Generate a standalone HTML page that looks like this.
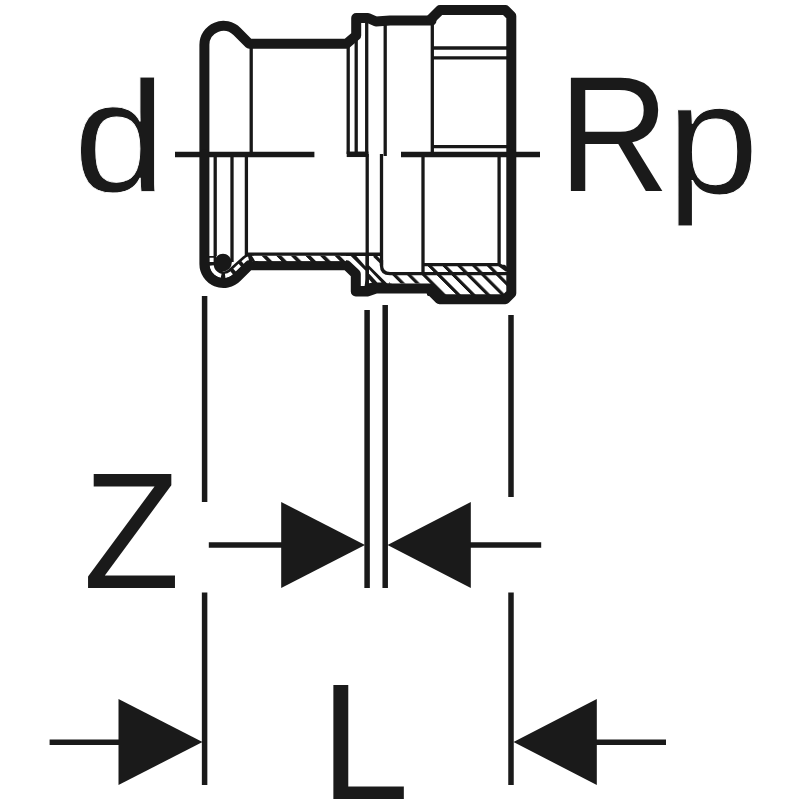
<!DOCTYPE html>
<html lang="en">
<head>
<meta charset="utf-8">
<title>Fitting dimensions d, Rp, Z, L</title>
<style>
html,body{margin:0;padding:0;background:#fff;}
body{width:800px;height:800px;overflow:hidden;}
svg{display:block;}
text{font-family:"Liberation Sans",sans-serif;fill:#1a1a1a;}
.thick{fill:none;stroke:#181818;stroke-width:10;stroke-linejoin:round;stroke-linecap:round;}
.thin{fill:none;stroke:#181818;stroke-width:3.3;stroke-linecap:butt;}
.mid{fill:none;stroke:#181818;stroke-width:5.5;stroke-linecap:butt;}
.dim{fill:none;stroke:#1a1a1a;stroke-width:5.5;stroke-linecap:butt;}
.arrow{fill:#1a1a1a;stroke:none;}
</style>
</head>
<body>
<svg width="800" height="800" viewBox="0 0 800 800">
<defs>
<pattern id="hatch" patternUnits="userSpaceOnUse" width="14.8" height="20" patternTransform="translate(13.6 0) skewX(45)">
<rect x="0" y="0" width="14.8" height="20" fill="#fff"/>
<rect x="0" y="0" width="4.5" height="20" fill="#181818"/>
</pattern>
<pattern id="hatch2" patternUnits="userSpaceOnUse" width="14.6" height="20" patternTransform="translate(5.8 0) skewX(45)">
<rect x="0" y="0" width="14.6" height="20" fill="#fff"/>
<rect x="0" y="0" width="5.2" height="20" fill="#181818"/>
</pattern>
</defs>
<rect width="800" height="800" fill="#fff"/>

<!-- labels -->
<text id="t-d" x="0" y="0" font-size="157.7" stroke="#fff" stroke-width="0.8" transform="translate(73.4 191.4) scale(1.0512 1)">d</text>
<text id="t-R" x="0" y="0" font-size="164.8" transform="translate(558.3 191) scale(0.935 1)">R</text>
<text id="t-p" x="0" y="0" font-size="158.4" stroke="#fff" stroke-width="1" transform="translate(666.8 193.1) scale(1.046 1)">p</text>
<text id="t-Z" x="0" y="0" font-size="165.3" transform="translate(83 588) scale(0.96 1)">Z</text>
<text id="t-L" x="0" y="0" font-size="165.6" transform="translate(320.3 799) scale(0.965 1)">L</text>

<!-- upper half thin lines (outside view) -->
<g id="upper">
<path class="thin" d="M251.2,46 V154" stroke-width="3.8"/>
<path class="thin" d="M348.2,46 V154"/>
<path class="thin" d="M356.2,36 V154"/>
<path class="thin" d="M366.7,22 V154" stroke-width="3.8"/>
<path class="mid" d="M346.7,154.3 H368.4" stroke-width="5"/>
<path class="thin" d="M385.2,24 V156" stroke-width="3.6"/>
<path class="thin" d="M432.3,22 V154" stroke-width="3.6"/>
<path class="thin" d="M432,48 H507"/>
<path class="thin" d="M432,57.8 H507"/>
<path class="thin" d="M432,146.6 H507"/>
</g>

<!-- lower half: hatched wall section -->
<g id="section">
<!-- threaded body hatch -->
<path d="M341,255 H381.5 V266 Q381.5,273.6 390,273.6 H392 V290 H355.8 V274 L346.5,265.2 H341 Z" fill="#181818"/>
<path d="M368.8,255.9 H381 V266 Q381,274 390,274 H392 V283.6 H387.2 L368.8,265.2 Z" fill="#fff"/>
<path d="M374.3,255.5 L382,263.2" stroke="#181818" stroke-width="3.2" fill="none"/>
<path d="M389,274 H422.6 V264.7 H507 V296 H427 V283.6 H389 Z" fill="url(#hatch)"/>
<path d="M424,284 H434 L446,296 H436 Z" fill="#181818"/>
<!-- press end: white gaps between hatch lines near the step -->
<path d="M341.5,255.9 H350.8 L365.6,270.8 V279 L364.6,286 H359 V272 L346,260.5 Z" fill="#fff"/>
<path d="M356.3,255.9 H365.6 V266.5 Z" fill="#fff"/>
<path d="M369,269.3 L381.6,282.6 H377.3 L369,273.4 Z" fill="#fff"/>
<path d="M368.9,279.2 L372,282.8 L368.9,283.2 Z" fill="#fff"/>
<rect x="336" y="255.6" width="5" height="6" fill="url(#hatch2)"/>
<path class="thin" d="M381.5,154 V265.5" stroke-width="4.1"/>
<path class="thin" d="M381.5,260 V265.5 Q381.5,273.6 390,273.6 H507" stroke-width="3.1"/>
<path class="thin" d="M423,154 V274" stroke-width="3.3"/>
<path class="thin" d="M423,264.7 H500" stroke-width="2.9"/>
<path class="thin" d="M499.1,154 V264.6 L507,270.4"/>
<path class="thin" d="M215.2,154 V256" stroke-width="3.5"/>
<path class="thin" d="M232,154 V262" stroke-width="3.5"/>
<path class="thin" d="M246.4,154 V256" stroke-width="3.5"/>
<path class="thin" d="M367.2,154 V286" stroke-width="4.1"/>
<!-- bead wall -->
<path d="M211.5,256 V263.8 A12.1,12.1 0 0 0 231.2,273.3 L246,260 Q247.8,258.4 250.5,258.4 H254" fill="none" stroke="#181818" stroke-width="9.4"/>
<path d="M211.5,256 V263.8 A12.1,12.1 0 0 0 231.2,273.3 L246,260 Q247.8,258.4 250.5,258.4 H254" fill="none" stroke="#fff" stroke-width="4.2" stroke-dasharray="0 1.75 4.35 3.5 14.7 3.9 7.2 4 7.2 3.8 7.2 100"/>
<circle cx="223" cy="262.6" r="8.8" fill="#181818"/>
</g>

<!-- centre lines -->
<path class="mid" d="M175,154.6 H314.4" stroke-width="5.6"/>
<path class="mid" d="M401,154.6 H540" stroke-width="5.6"/>

<!-- outline -->
<path id="outline" class="thick" d="M204.4,154.4 V45 A19,19 0 0 1 237,31.6 L249.2,43.75 H346.5 L356.2,35.5 V18 H368 L376,21.5 L390,20.6 H431.5"/>
<path class="thick" d="M431,19 L440,10.1 H505.3 L511.3,16.1 V154.4" stroke-width="10.4"/>
<path class="thick" d="M204.4,154.4 V263.8 A19,19 0 0 0 237,277.2 L249.2,265.2 H346.5 L355.8,274 V291.4 H368 L376,288.6 H431.5"/>
<path class="thick" d="M430.5,290.3 L439.5,299.3 H505.3 L511.3,293.3 V154.4" stroke-width="10.4"/>
<!-- pipe wall hatch (drawn over outline) -->
<rect x="252" y="255.6" width="94" height="5.5" fill="url(#hatch2)"/>
<path d="M252,255.8 H256 L260.5,260.9 H255 Z" fill="#fff"/>
<path class="thin" d="M246.4,254.2 H383" stroke-width="3.2"/>

<!-- dimension lines -->
<g id="dims">
<path class="dim" d="M204.6,296 V502"/>
<path class="dim" d="M204.6,592.5 V785"/>
<path class="dim" d="M367.1,310 V588"/>
<path class="dim" d="M385.2,305 V588"/>
<path class="dim" d="M511,315 V497"/>
<path class="dim" d="M511,592.5 V785"/>
<path class="dim" d="M208.8,545 H282"/>
<path class="arrow" d="M281.2,502 L365,545 L281.2,588 Z"/>
<path class="dim" d="M470,545 H541.2"/>
<path class="arrow" d="M470.8,502 L387.5,545 L470.8,588 Z"/>
<path class="dim" d="M49.6,742.2 H119"/>
<path class="arrow" d="M118.5,699 L202.5,742 L118.5,785 Z"/>
<path class="dim" d="M596,742.2 H666"/>
<path class="arrow" d="M596.8,699 L513.5,742 L596.8,785 Z"/>
</g>
</svg>
</body>
</html>
